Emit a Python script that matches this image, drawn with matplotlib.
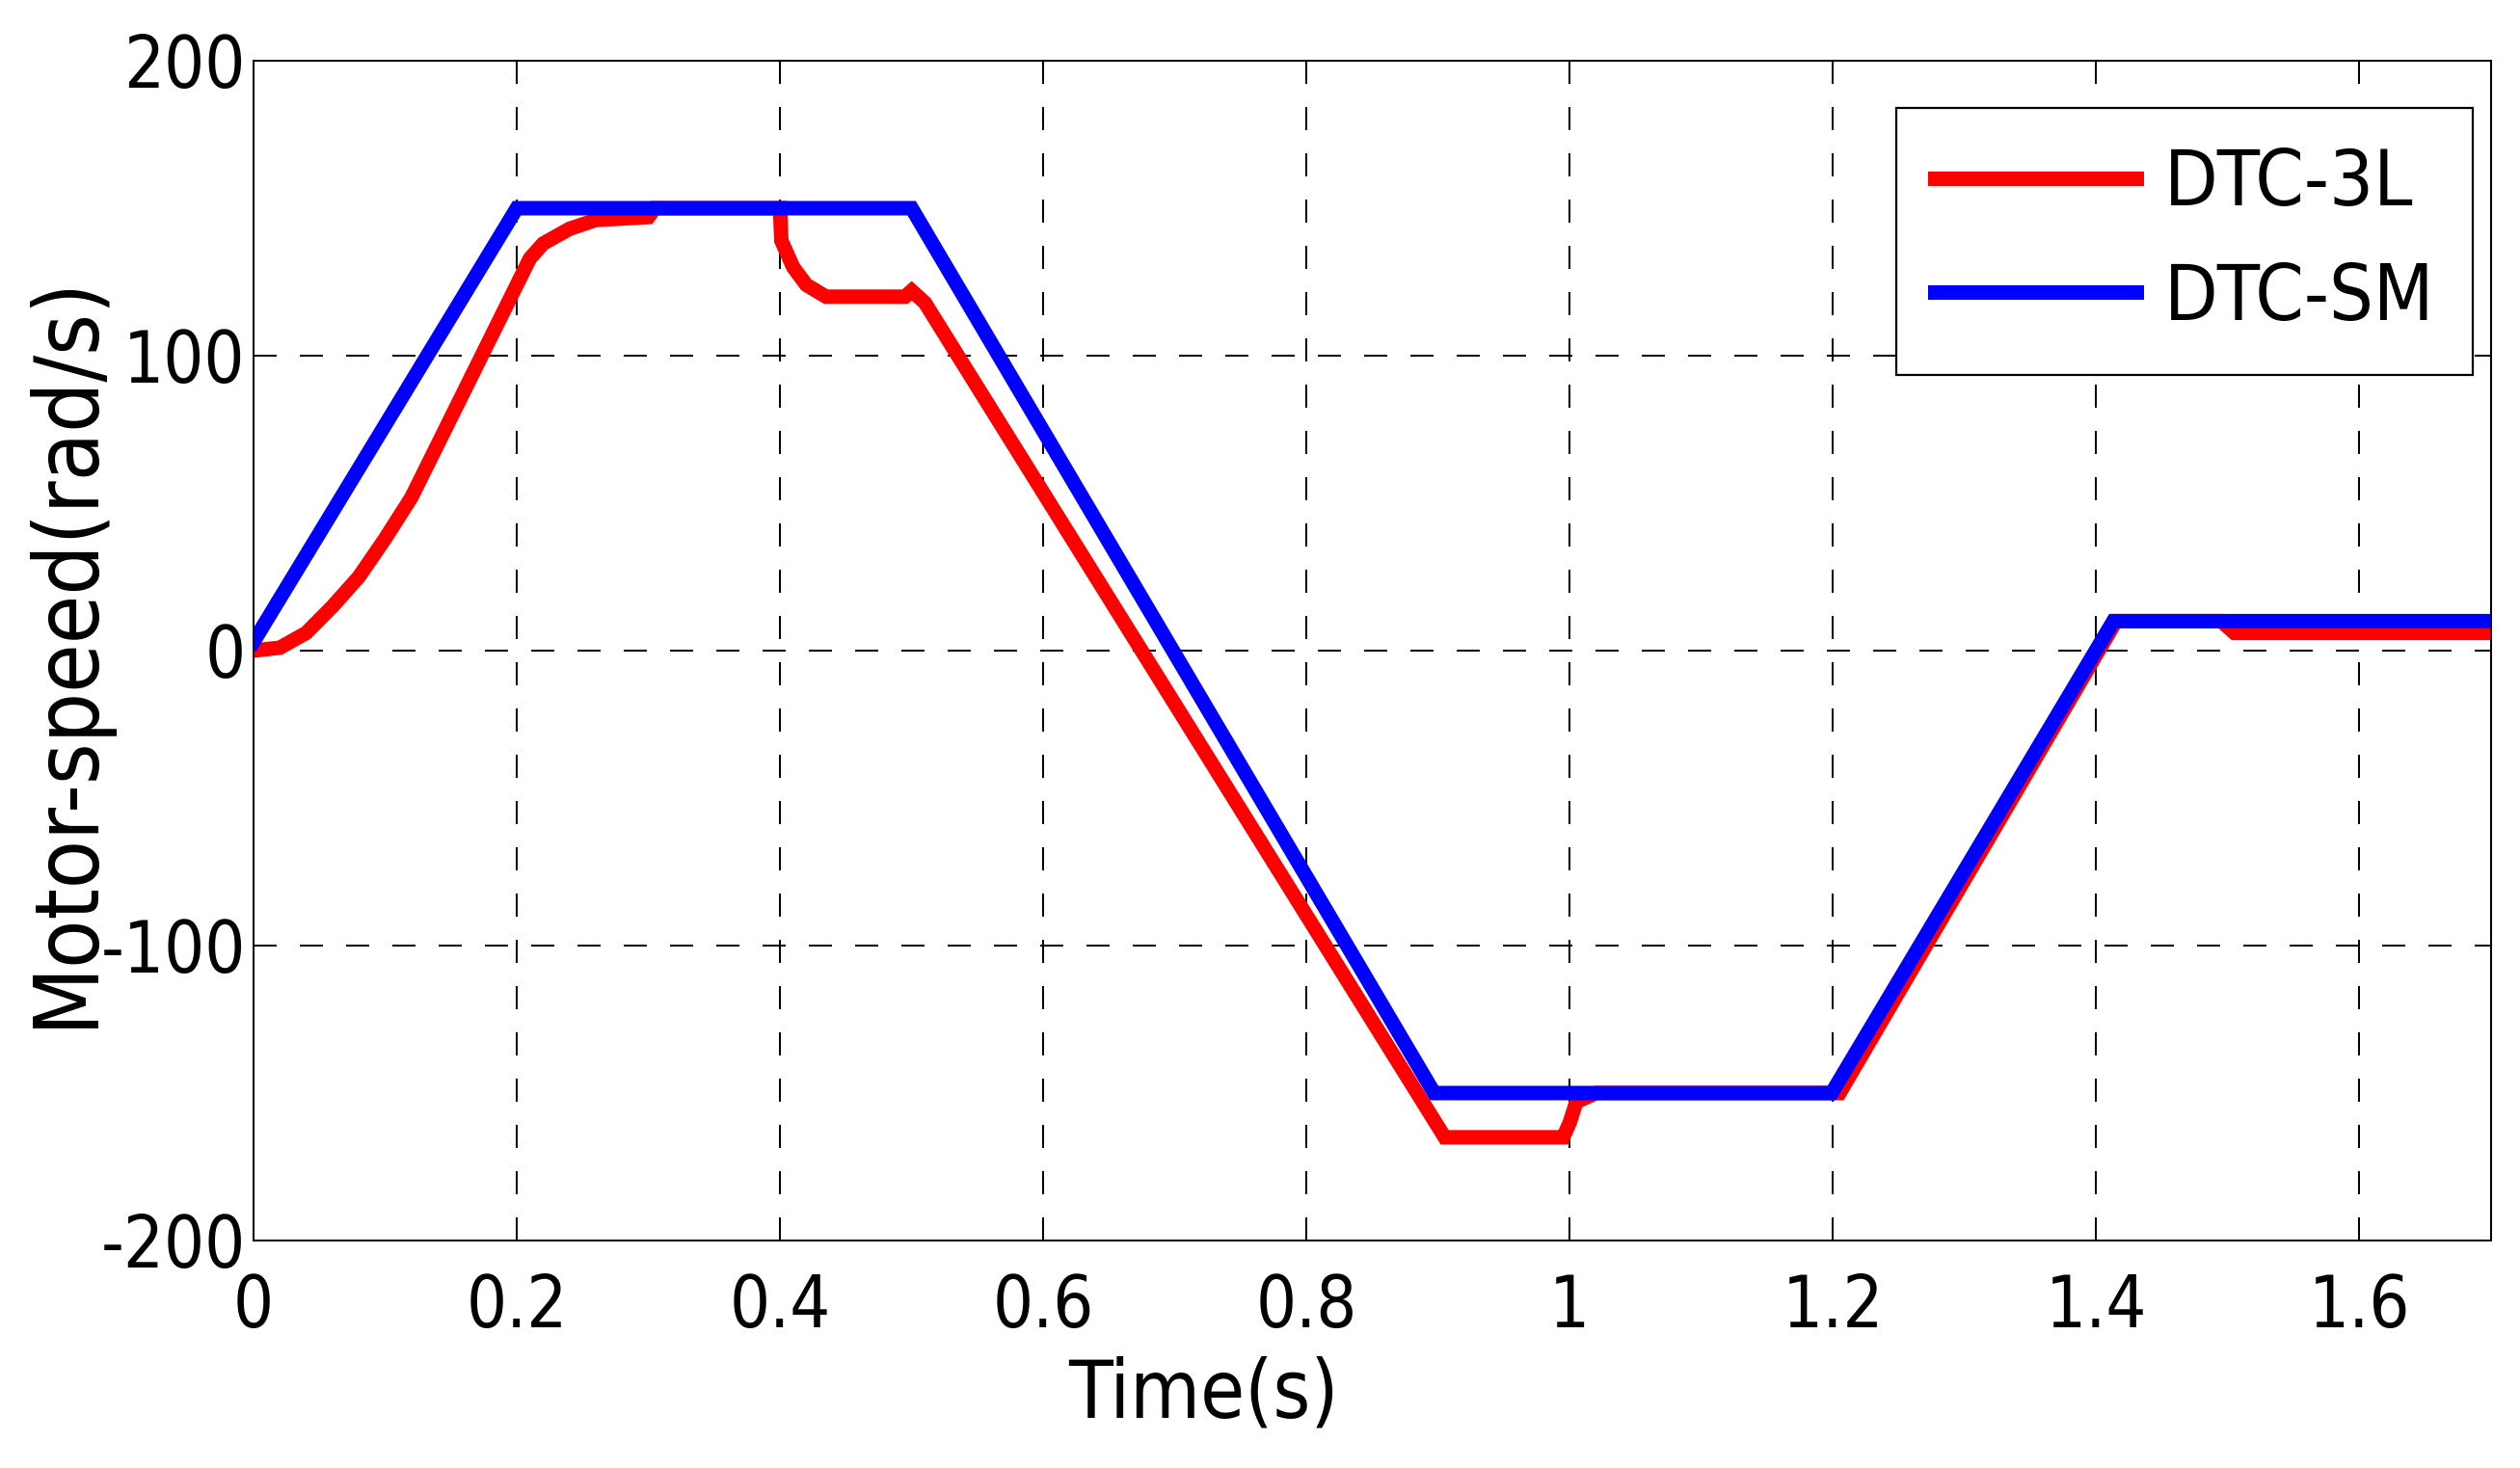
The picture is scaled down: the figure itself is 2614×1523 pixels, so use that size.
import matplotlib
matplotlib.use('Agg')
import matplotlib.pyplot as plt
from matplotlib import font_manager
from matplotlib.font_manager import FontProperties

# DTC-SM (blue) breakpoints
t_sm = [0.0, 0.2, 0.5, 0.897, 1.199, 1.413, 1.7]
w_sm = [3, 150, 150, -150, -150, 10, 10]

# DTC-3L (red) breakpoints
t_3l = [0.0, 0.02, 0.04, 0.06, 0.08, 0.10, 0.12, 0.14, 0.16, 0.18, 0.20,
        0.21, 0.22, 0.24, 0.26, 0.30, 0.305, 0.40, 0.401, 0.41, 0.42, 0.435,
        0.495, 0.50, 0.51, 0.905, 0.995, 1.0, 1.005, 1.02, 1.205, 1.415,
        1.495, 1.505, 1.7]
w_3l = [0, 1, 6, 15, 25, 38, 52, 70, 88, 106, 124,
        133, 138, 143, 146, 147, 150, 150, 139, 130, 124, 120,
        120, 122, 118, -165, -165, -160, -153, -150, -150, 10,
        10, 6, 6]

xticks = [0, 0.2, 0.4, 0.6, 0.8, 1, 1.2, 1.4, 1.6]
xtick_labels = ['0', '0.2', '0.4', '0.6', '0.8', '1', '1.2', '1.4', '1.6']
yticks = [-200, -100, 0, 100, 200]
ytick_labels = ['-200', '-100', '0', '100', '200']


def pick_narrow():
    fl = font_manager.fontManager.ttflist
    ok = lambda f: f.style == 'normal' and f.weight in (400, 'normal', 'regular')
    for want in ['Liberation Sans Narrow', 'Arial Narrow']:
        for f in fl:
            if f.name == want and ok(f):
                return f.fname
    for f in fl:
        st = str(f.stretch)
        if ('Condensed' in f.name or 'Narrow' in f.name or st in ('condensed', 'semi-condensed')) and ok(f):
            return f.fname
    return None


narrow = pick_narrow()
if narrow:
    fp = lambda s: FontProperties(fname=narrow, size=s)
    fs, fs_lab, fs_xlab, fs_leg = 53, 66, 60, 58
else:
    fp = lambda s: FontProperties(family='Liberation Sans', size=s)
    fs, fs_lab, fs_xlab, fs_leg = 48, 58, 52, 50

fig = plt.figure(figsize=(26.14, 15.23), dpi=100)
ax = fig.add_axes([263/2614, 1 - 1287/1523, (2584 - 263)/2614, (1287 - 63)/1523])

ax.plot(t_3l, w_3l, color='#ff0000', lw=10.8, label='DTC-3L', solid_joinstyle='miter')
ax.plot(t_sm, w_sm, color='#0000ff', lw=10.8, label='DTC-SM', solid_joinstyle='miter')

ax.set_xlim(0, 1.7)
ax.set_ylim(-200, 200)
ax.set_xticks(xticks)
ax.set_xticklabels(xtick_labels, fontproperties=fp(fs))
ax.set_yticks(yticks)
ax.set_yticklabels(ytick_labels, fontproperties=fp(fs))

ax.grid(True, color='black', lw=1.44, linestyle=(0, (12, 12)))
ax.tick_params(direction='in', length=10, width=1.44, top=True, right=True)
ax.tick_params(axis='x', pad=24)
ax.tick_params(axis='y', pad=6)
for s in ax.spines.values():
    s.set_linewidth(1.44)

ax.set_xlabel('Time(s)', fontproperties=fp(fs_xlab))
ax.xaxis.set_label_coords(0.4247, -0.098)
ax.set_ylabel('Motor-speed(rad/s)', fontproperties=fp(fs_lab))
ax.yaxis.label.set_verticalalignment('center')
ax.yaxis.set_label_coords(-0.0835, 0.5)

leg = ax.legend(loc='upper right', bbox_to_anchor=(0.992, 0.960), prop=fp(fs_leg),
                handlelength=2.6, handletextpad=0.35, borderpad=0.5,
                labelspacing=0.5, fancybox=False, framealpha=1,
                edgecolor='black', borderaxespad=0)
leg.get_frame().set_linewidth(1.6)

fig.savefig('out.png', dpi=100)
